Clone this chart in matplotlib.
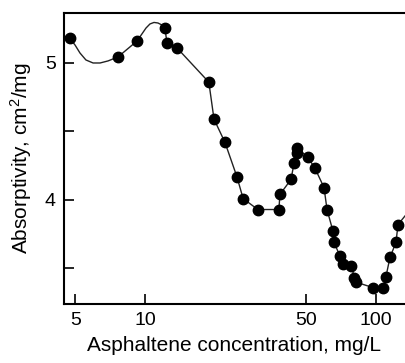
import matplotlib.pyplot as plt
from matplotlib.ticker import FixedLocator, FixedFormatter, NullLocator

plt.rcParams['font.family'] = ['Liberation Sans', 'DejaVu Sans']
plt.rcParams['mathtext.default'] = 'regular'

# measured points (mg/L, cm2/mg)
conc = [4.73, 7.64, 9.23, 12.2, 12.45, 13.76, 18.9, 19.9, 22.2, 25.0, 26.6,
        30.8, 38.0, 38.4, 42.9, 44.2, 45.5, 45.5, 50.8, 54.5, 59.6, 61.4,
        65.2, 65.8, 69.9, 72.0, 78.0, 80.3, 81.9, 97.0, 107.2, 110.5, 115.0,
        122.1, 124.6]
absorp = [5.18, 5.044, 5.16, 5.255, 5.146, 5.11, 4.86, 4.59, 4.42, 4.17, 4.01,
          3.93, 3.93, 4.04, 4.15, 4.27, 4.38, 4.34, 4.31, 4.23, 4.09, 3.93,
          3.77, 3.69, 3.59, 3.53, 3.52, 3.43, 3.40, 3.36, 3.36, 3.44, 3.58,
          3.69, 3.82]

# hand-drawn trend curve
curve_x = [4.46, 4.73, 4.98, 5.23, 5.55, 5.96, 6.39, 6.92, 7.64, 9.23, 9.70,
           10.1, 10.51, 10.94, 11.38, 11.85, 12.2, 12.45, 13.76, 18.9, 19.9,
           22.2, 25.0, 26.6, 30.8, 38.0, 38.4, 42.9, 44.2, 45.5, 50.8, 54.5,
           59.6, 61.4, 65.2, 65.8, 69.9, 72.0, 78.0, 81.9, 97.0, 107.2, 110.5,
           115.0, 122.1, 124.6, 133.6]
curve_y = [5.197, 5.18, 5.131, 5.073, 5.022, 5.0, 5.0, 5.015, 5.044, 5.16, 5.212,
           5.255, 5.285, 5.296, 5.292, 5.277, 5.255, 5.146, 5.11, 4.86, 4.59,
           4.42, 4.17, 4.01, 3.93, 3.93, 4.04, 4.15, 4.27, 4.38, 4.31, 4.23,
           4.09, 3.93, 3.77, 3.69, 3.59, 3.53, 3.52, 3.40, 3.36, 3.36, 3.44,
           3.58, 3.69, 3.82, 3.883]

fig = plt.figure(figsize=(4.05, 3.63), dpi=100)
ax = fig.add_axes([0.158, 0.1625, 0.842, 0.8017])

ax.plot(curve_x, curve_y, color='#222222', lw=1.0)
ax.plot(conc, absorp, 'o', color='black', ms=7.5, mec='black')

ax.set_xscale('log')
ax.set_xlim(4.46, 133.6)
ax.set_ylim(3.24, 5.365)

ax.xaxis.set_major_locator(FixedLocator([5, 10, 50, 100]))
ax.xaxis.set_major_formatter(FixedFormatter(['5', '10', '50', '100']))
ax.xaxis.set_minor_locator(NullLocator())
ax.yaxis.set_major_locator(FixedLocator([3.5, 4, 4.5, 5]))
ax.yaxis.set_major_formatter(FixedFormatter(['', '4', '', '5']))

ax.tick_params(direction='in', length=7, width=1.2, labelsize=14, pad=6)
ax.spines['right'].set_visible(False)
for s in ['left', 'bottom', 'top']:
    ax.spines[s].set_linewidth(1.5)

ax.set_xlabel('Asphaltene concentration, mg/L', fontsize=15, labelpad=5)
ax.set_ylabel('Absorptivity, cm$^2$/mg', fontsize=15, labelpad=8)

fig.savefig('out.png', dpi=100)
